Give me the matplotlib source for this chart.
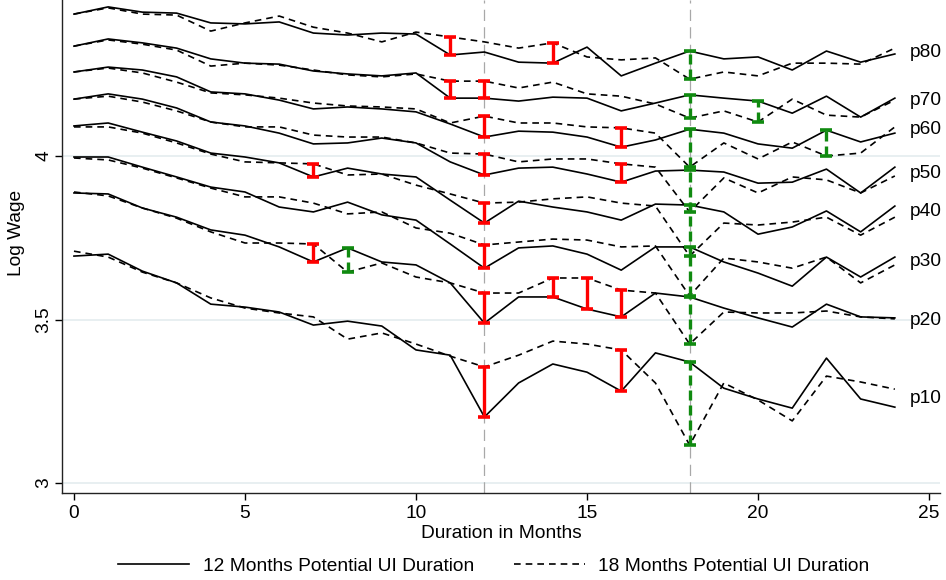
import numpy as np
import matplotlib
matplotlib.use('Agg')
import matplotlib.pyplot as plt

plt.rcParams['font.family'] = ['Liberation Sans', 'DejaVu Sans']

months = np.arange(25)

# log wage by percentile, 12 months potential UI (solid) and 18 months (dashed)
p80_12 = [4.434, 4.456, 4.440, 4.437, 4.407, 4.404, 4.410, 4.376, 4.370, 4.376, 4.373, 4.309, 4.318,
          4.287, 4.284, 4.333, 4.245, 4.284, 4.321, 4.297, 4.303, 4.263, 4.321, 4.287, 4.312]
p80_18 = [4.434, 4.453, 4.434, 4.431, 4.382, 4.407, 4.428, 4.394, 4.376, 4.349, 4.379, 4.364, 4.349,
          4.330, 4.346, 4.303, 4.294, 4.300, 4.235, 4.257, 4.245, 4.284, 4.284, 4.281, 4.330]
p70_12 = [4.336, 4.358, 4.346, 4.330, 4.297, 4.284, 4.281, 4.260, 4.251, 4.245, 4.254, 4.177, 4.177,
          4.168, 4.180, 4.177, 4.138, 4.162, 4.187, 4.177, 4.168, 4.131, 4.183, 4.119, 4.177]
p70_18 = [4.336, 4.355, 4.342, 4.324, 4.275, 4.284, 4.278, 4.263, 4.248, 4.242, 4.251, 4.229, 4.229,
          4.208, 4.226, 4.190, 4.183, 4.159, 4.116, 4.138, 4.104, 4.174, 4.125, 4.119, 4.171]
p60_12 = [4.257, 4.272, 4.263, 4.242, 4.196, 4.190, 4.171, 4.144, 4.150, 4.144, 4.135, 4.098, 4.058,
          4.076, 4.073, 4.058, 4.027, 4.049, 4.082, 4.070, 4.037, 4.024, 4.079, 4.043, 4.070]
p60_18 = [4.257, 4.269, 4.254, 4.226, 4.193, 4.187, 4.177, 4.162, 4.153, 4.150, 4.144, 4.101, 4.122,
          4.101, 4.101, 4.089, 4.086, 4.070, 3.966, 4.040, 3.991, 4.043, 4.000, 4.009, 4.089]
p50_12 = [4.174, 4.190, 4.174, 4.147, 4.104, 4.092, 4.070, 4.037, 4.040, 4.055, 4.040, 3.982, 3.942,
          3.963, 3.966, 3.945, 3.920, 3.954, 3.957, 3.951, 3.917, 3.920, 3.960, 3.887, 3.966]
p50_18 = [4.174, 4.183, 4.165, 4.138, 4.104, 4.089, 4.089, 4.064, 4.058, 4.058, 4.040, 4.009, 4.006,
          3.982, 3.991, 3.991, 3.976, 3.966, 3.829, 3.933, 3.887, 3.936, 3.927, 3.887, 3.939]
p40_12 = [4.092, 4.101, 4.073, 4.046, 4.009, 3.997, 3.979, 3.936, 3.963, 3.945, 3.936, 3.865, 3.795,
          3.862, 3.844, 3.829, 3.804, 3.853, 3.850, 3.829, 3.761, 3.783, 3.832, 3.768, 3.847]
p40_18 = [4.089, 4.089, 4.070, 4.040, 4.006, 3.982, 3.979, 3.976, 3.942, 3.945, 3.911, 3.884, 3.856,
          3.859, 3.869, 3.875, 3.856, 3.847, 3.694, 3.795, 3.789, 3.798, 3.813, 3.758, 3.813]
p30_12 = [3.997, 3.997, 3.966, 3.936, 3.905, 3.890, 3.844, 3.829, 3.859, 3.820, 3.804, 3.731, 3.657,
          3.719, 3.725, 3.700, 3.651, 3.722, 3.722, 3.676, 3.642, 3.602, 3.691, 3.630, 3.691]
p30_18 = [3.994, 3.988, 3.963, 3.933, 3.902, 3.875, 3.875, 3.856, 3.823, 3.829, 3.780, 3.764, 3.728,
          3.737, 3.746, 3.743, 3.722, 3.725, 3.572, 3.688, 3.676, 3.657, 3.691, 3.612, 3.667]
p20_12 = [3.887, 3.884, 3.841, 3.813, 3.774, 3.758, 3.722, 3.676, 3.719, 3.676, 3.667, 3.612, 3.489,
          3.569, 3.569, 3.532, 3.508, 3.581, 3.569, 3.535, 3.505, 3.477, 3.547, 3.508, 3.505]
p20_18 = [3.890, 3.878, 3.841, 3.810, 3.768, 3.734, 3.734, 3.731, 3.645, 3.673, 3.630, 3.612, 3.581,
          3.581, 3.627, 3.627, 3.590, 3.581, 3.425, 3.523, 3.520, 3.520, 3.526, 3.508, 3.502]
p10_12 = [3.694, 3.700, 3.648, 3.612, 3.547, 3.538, 3.523, 3.483, 3.495, 3.480, 3.407, 3.391, 3.202,
          3.306, 3.364, 3.339, 3.281, 3.398, 3.370, 3.290, 3.257, 3.229, 3.382, 3.257, 3.232]
p10_18 = [3.709, 3.691, 3.645, 3.612, 3.566, 3.535, 3.520, 3.508, 3.440, 3.459, 3.425, 3.388, 3.355,
          3.391, 3.434, 3.425, 3.407, 3.306, 3.116, 3.306, 3.254, 3.190, 3.327, 3.309, 3.287]

# months where the difference is marked
sig_p80 = [11, 14, 18]
sig_p70 = [11, 12, 18, 20]
sig_p60 = [12, 16, 18, 22]
sig_p50 = [12, 16, 18]
sig_p40 = [7, 12, 18]
sig_p30 = [12, 18]
sig_p20 = [7, 8, 12, 14, 15, 16, 18]
sig_p10 = [12, 16, 18]

labels = ['p80', 'p70', 'p60', 'p50', 'p40', 'p30', 'p20', 'p10']
label_y = [4.318, 4.171, 4.080, 3.948, 3.829, 3.676, 3.498, 3.260]

series = [(p80_12, p80_18, sig_p80), (p70_12, p70_18, sig_p70), (p60_12, p60_18, sig_p60),
          (p50_12, p50_18, sig_p50), (p40_12, p40_18, sig_p40), (p30_12, p30_18, sig_p30),
          (p20_12, p20_18, sig_p20), (p10_12, p10_18, sig_p10)]

fs = 13.8
fig = plt.figure(figsize=(9.46, 5.80), dpi=100)
ax = fig.add_axes([62/946, 87/580, 878/946, 493/580])

ax.axvline(12, color='#a8a8a8', lw=0.9, ls=(0, (9, 5)), zorder=1)
ax.axvline(18, color='#a8a8a8', lw=0.9, ls=(0, (9, 5)), zorder=1)

for s12, s18, sig in series:
    ax.plot(months, s12, color='black', lw=1.2, zorder=2)
    ax.plot(months, s18, color='black', lw=1.2, dashes=(4, 3), zorder=2)
    for m in sig:
        a, b = s12[m], s18[m]
        if b > a:
            c, ls = '#ff0000', '-'
        else:
            c, ls = '#108a10', (0, (3, 1.5))
        ax.vlines(m, min(a, b), max(a, b), colors=c, lw=2.4, linestyles=ls, zorder=4)
        ax.plot([m, m], [a, b], ls='none', marker='_', ms=9, mew=2.6, color=c, zorder=4)

for lbl, yy in zip(labels, label_y):
    ax.text(24.44, yy, lbl, ha='left', va='center', fontsize=fs, clip_on=False)

ax.set_xlim(-0.35, 25.32)
ax.set_ylim(2.9695, 4.4771)
ax.set_xticks([0, 5, 10, 15, 20, 25])
ax.set_yticks([3, 3.5, 4], labels=['3', '3.5', '4'], rotation=90, va='center')
ax.yaxis.grid(True, color='#e6eef0', lw=1.3)
ax.set_axisbelow(True)
ax.tick_params(direction='out', length=5, width=1, labelsize=fs, colors='black')
ax.tick_params(axis='y', pad=2)
for side in ['top', 'right']:
    ax.spines[side].set_visible(False)
for side in ['left', 'bottom']:
    ax.spines[side].set_color('#222222')
    ax.spines[side].set_linewidth(1.0)

ax.set_xlabel('Duration in Months', fontsize=fs, labelpad=2)
ax.set_ylabel('Log Wage', fontsize=fs)
ax.yaxis.set_label_coords(-0.042, (3.765 - 2.9695) / (4.4771 - 2.9695))

h1, = ax.plot([], [], color='black', lw=1.2)
h2, = ax.plot([], [], color='black', lw=1.2, dashes=(4, 3))
fig.legend([h1, h2], ['12 Months Potential UI Duration', '18 Months Potential UI Duration'],
           loc='center', bbox_to_anchor=(494/946, 1 - 566/580), ncol=2, frameon=False,
           fontsize=fs, handlelength=3.7, handletextpad=0.7, columnspacing=2.1)

fig.savefig('out.png', dpi=100)
